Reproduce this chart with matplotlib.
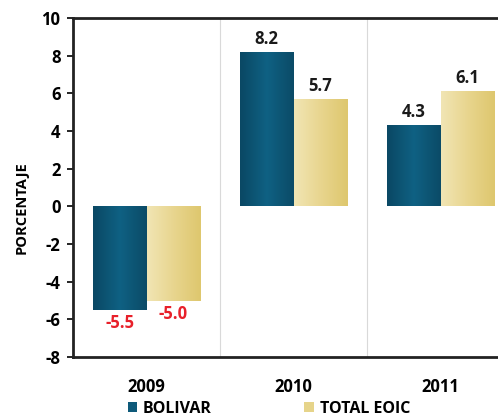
import numpy as np
import matplotlib
matplotlib.use("Agg")
import matplotlib.pyplot as plt
from matplotlib.colors import LinearSegmentedColormap

plt.rcParams['font.family'] = ['Open Sans', 'DejaVu Sans']
plt.rcParams['font.weight'] = 'bold'
plt.rcParams['axes.unicode_minus'] = False

years = ["2009", "2010", "2011"]
bolivar = [-5.5, 8.2, 4.3]
total_eoic = [-5.0, 5.7, 6.1]
series_names = ["BOLIVAR", "TOTAL EOIC"]
yticks = [-8, -6, -4, -2, 0, 2, 4, 6, 8, 10]

c_bol = "#0e5a7a"
c_tot = "#e6d48a"
cm_bol = LinearSegmentedColormap.from_list("bol", ["#0a4864", "#0f6183", "#0b4b67"])
cm_tot = LinearSegmentedColormap.from_list("tot", ["#f1e5b4", "#e8d58e", "#dec76e"])

fig = plt.figure(figsize=(4.98, 4.20), dpi=100)
ax = fig.add_axes([0.1466, 0.15, 0.886, 0.807])

x = np.arange(len(years))
w = 0.367
b1 = ax.bar(x - w/2, bolivar, w, color=c_bol, label=series_names[0])
b2 = ax.bar(x + w/2, total_eoic, w, color=c_tot, label=series_names[1])

# shaded fill like the original (gradient clipped to each bar)
grad = np.linspace(0, 1, 64).reshape(1, -1)
for bars, cm in [(b1, cm_bol), (b2, cm_tot)]:
    for r in bars:
        x0, y0 = r.get_x(), r.get_y()
        im = ax.imshow(grad, cmap=cm, aspect="auto", interpolation="bicubic",
                       extent=(x0, x0 + r.get_width(), y0, y0 + r.get_height()), zorder=2)
        im.set_clip_path(r)

# value labels: black above positives, red below negatives
for bars, vals in [(b1, bolivar), (b2, total_eoic)]:
    for r, v in zip(bars, vals):
        cx = r.get_x() + r.get_width()/2
        if v >= 0:
            ax.annotate(f"{v:.1f}", (cx, v), xytext=(0, 3), textcoords="offset points",
                        ha="center", va="bottom", fontsize=12, fontweight="bold", color="#1a1a1a")
        else:
            ax.annotate(f"{v:.1f}", (cx, v), xytext=(0, -3), textcoords="offset points",
                        ha="center", va="top", fontsize=12, fontweight="bold", color="#e8202a")

# category separators
for s in x[:-1] + 0.5:
    ax.axvline(s, color="#d9d9d9", lw=0.8, zorder=0)

ax.set_xlim(-0.5, 2.5)
ax.set_ylim(-8, 10)
ax.set_yticks(yticks)
ax.set_xticks(x)
ax.set_xticklabels(years)
ax.tick_params(axis="x", length=0, pad=15, labelsize=12)
ax.tick_params(axis="y", length=4, width=1.2, labelsize=12, pad=5)
for lab in ax.get_xticklabels() + ax.get_yticklabels():
    lab.set_fontweight("bold")

for side in ["left", "top", "bottom"]:
    ax.spines[side].set_linewidth(2)
    ax.spines[side].set_color("#222222")
ax.spines["right"].set_visible(False)

ax.set_ylabel("PORCENTAJE", fontsize=10.5, fontweight="bold")
ax.yaxis.set_label_coords(-0.10, 0.44)

fig.legend(handles=[b1, b2], loc="center", bbox_to_anchor=(0.54, 0.027), ncol=2,
           frameon=False, handlelength=0.6, handleheight=0.6, handletextpad=0.35,
           columnspacing=5.8, prop={"weight": "bold", "size": 11.5})

fig.savefig("out.png", dpi=100)
